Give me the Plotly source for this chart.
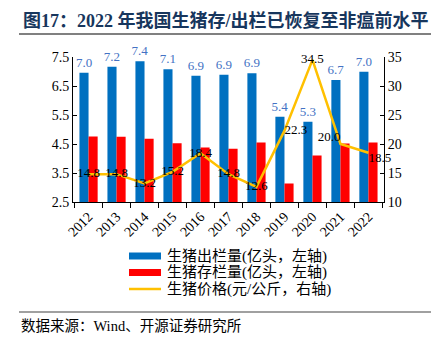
import plotly.graph_objects as go

years = ["2012", "2013", "2014", "2015", "2016", "2017", "2018", "2019", "2020", "2021", "2022"]
slaughter = [6.96, 7.16, 7.35, 7.08, 6.85, 6.89, 6.94, 5.44, 5.27, 6.71, 6.99]
slaughter_labels = ["7.0", "7.2", "7.4", "7.1", "6.9", "6.9", "6.9", "5.4", "5.3", "6.7", "7.0"]
stock = [4.76, 4.75, 4.68, 4.53, 4.38, 4.34, 4.55, 3.14, 4.10, 4.52, 4.55]
price = [14.8, 14.8, 13.2, 15.2, 18.4, 14.8, 12.6, 22.3, 34.5, 20.0, 18.5]
price_labels = ["14.8", "14.8", "13.2", "15.2", "18.4", "14.8", "12.6", "22.3", "34.5", "20.0", "18.5"]
price_label_pos = ["middle center"] * 7 + ["middle right", "middle center", "top left", "bottom right"]
series_names = ["生猪出栏量(亿头，左轴)", "生猪存栏量(亿头，左轴)", "生猪价格(元/公斤，右轴)"]
series_colors = ["#0070C0", "#FF0000", "#FFC000"]

W, H = 439, 337
L, R, T, B = 73, 384, 57, 202
pw, ph = R - L, B - T


def px(x):
    return (x - L) / pw


def py(y):
    return (B - y) / ph


FONT = "Liberation Serif, Noto Sans CJK SC, serif"
CJK = "Liberation Serif, Noto Sans CJK SC"

fig = go.Figure()
fig.add_trace(go.Bar(
    x=years, y=slaughter, name=series_names[0],
    marker=dict(color=series_colors[0], line=dict(width=0)),
    text=slaughter_labels, textposition="outside", cliponaxis=False, constraintext="none",
    textfont=dict(color="#4472C4", size=13, family=FONT),
))
fig.add_trace(go.Bar(
    x=years, y=stock, name=series_names[1],
    marker=dict(color=series_colors[1], line=dict(width=0)),
))
fig.add_trace(go.Scatter(
    x=years, y=price, name=series_names[2], yaxis="y2",
    mode="lines+text", line=dict(color=series_colors[2], width=2.5),
    text=price_labels, textposition=price_label_pos, cliponaxis=False,
    textfont=dict(color="black", size=13, family=FONT),
))

fig.update_layout(
    width=W, height=H,
    margin=dict(l=L, r=W - R, t=T, b=H - B),
    paper_bgcolor="white", plot_bgcolor="white",
    barmode="group", bargap=0.35, bargroupgap=0,
    font=dict(family=FONT, size=13, color="black"),
    showlegend=False,
    xaxis=dict(
        type="category", tickangle=-45, showline=True, linecolor="black", linewidth=1,
        ticks="outside", tickson="boundaries", ticklen=5, tickcolor="black",
        tickfont=dict(size=14, family=FONT), showgrid=False,
    ),
    yaxis=dict(
        range=[2.5, 7.5], dtick=1, tick0=2.5, showline=True, linecolor="black",
        ticks="inside", ticklen=4, tickcolor="black", showgrid=False, zeroline=False,
        tickformat=".1f", tickfont=dict(size=14, family=FONT),
    ),
    yaxis2=dict(
        range=[10, 35], dtick=5, overlaying="y", side="right", showline=True,
        linecolor="black", ticks="inside", ticklen=4, tickcolor="black",
        showgrid=False, zeroline=False, tickfont=dict(size=14, family=FONT),
    ),
)

# custom legend (wide swatches like the reference)
leg_y = [256, 272.5, 289]
for i, (name, col) in enumerate(zip(series_names, series_colors)):
    y = leg_y[i]
    if i < 2:
        fig.add_shape(type="rect", xref="paper", yref="paper",
                      x0=px(129), x1=px(161), y0=py(y + 3.5), y1=py(y - 3.5),
                      fillcolor=col, line=dict(width=0))
    else:
        fig.add_shape(type="line", xref="paper", yref="paper",
                      x0=px(129), x1=px(161), y0=py(y), y1=py(y),
                      line=dict(color=col, width=2.5))
    fig.add_annotation(text=name, xref="paper", yref="paper", x=px(165), y=py(y),
                       xanchor="left", yanchor="middle", showarrow=False,
                       font=dict(size=15, color="black", family=CJK))

fig.add_annotation(
    text="<b>图17：2022 年我国生猪存/出栏已恢复至非瘟前水平</b>",
    xref="paper", yref="paper", x=px(21), y=py(21), xanchor="left", yanchor="middle",
    showarrow=False, font=dict(size=18, color="#17365D", family=CJK),
)
fig.add_annotation(
    text="数据来源：Wind、开源证券研究所",
    xref="paper", yref="paper", x=px(19), y=py(326), xanchor="left", yanchor="middle",
    showarrow=False, font=dict(size=14.5, color="black", family=CJK),
)
fig.add_shape(type="line", xref="paper", yref="paper", x0=px(19), x1=px(431), y0=py(34), y1=py(34),
              line=dict(color="#808080", width=2))
fig.add_shape(type="line", xref="paper", yref="paper", x0=px(19), x1=px(431), y0=py(312), y1=py(312),
              line=dict(color="#808080", width=1.5))

fig.write_html("out.html")
